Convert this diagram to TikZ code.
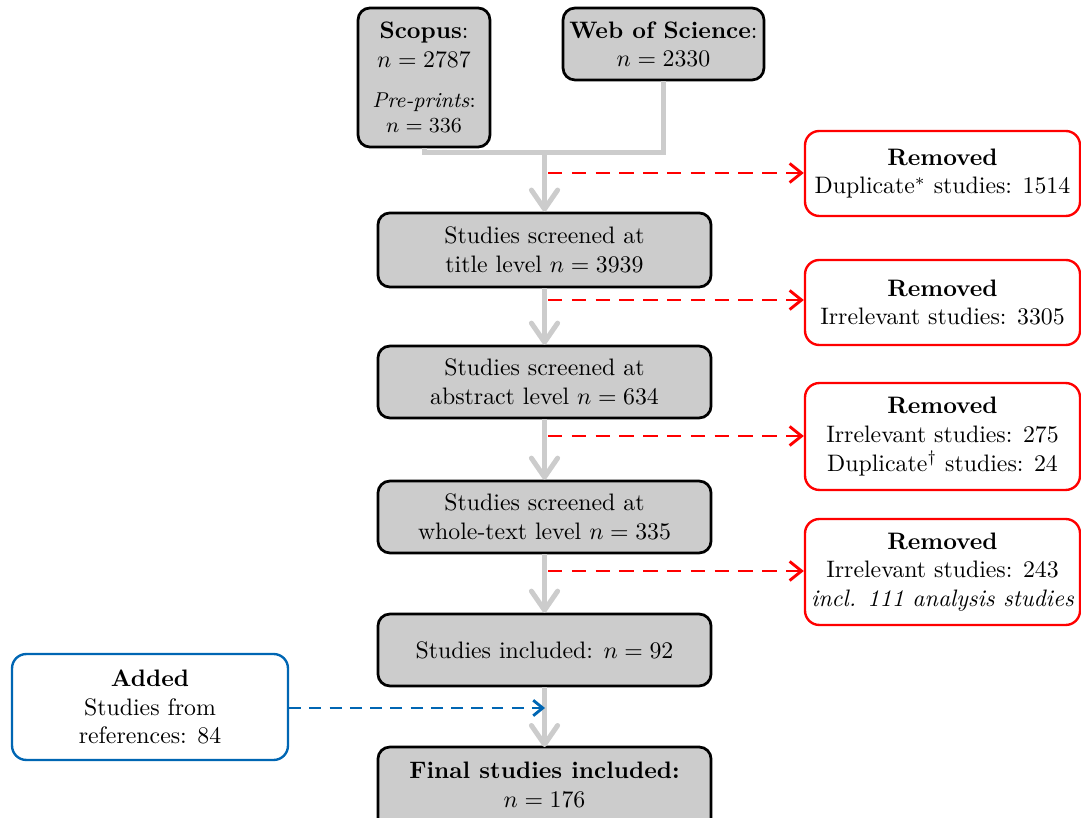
\documentclass[tikz,border=0pt]{standalone}
\usetikzlibrary{arrows.meta,calc,backgrounds}
\definecolor{boxgray}{HTML}{CCCCCC}
\definecolor{lgray}{HTML}{CCCCCC}
\definecolor{remred}{HTML}{FF0000}
\definecolor{addblue}{HTML}{0066B3}
\begin{document}
\begin{tikzpicture}[x=0.42pt,y=-0.42pt,
  mainbox/.style={draw=black, line width=1.15pt, fill=boxgray, rounded corners=5pt, align=center, inner sep=2pt, minimum width=139.9pt},
  redbox/.style={draw=remred, line width=1pt, fill=white, rounded corners=6pt, align=center, minimum width=115.5pt, inner sep=2pt},
  bluebox/.style={draw=addblue, line width=1pt, fill=white, rounded corners=6pt, align=center, minimum width=115.9pt, minimum height=44.5pt, inner sep=2pt},
  flow/.style={draw=lgray, line width=2.1pt},
  flowarrow/.style={flow, -{Straight Barb[length=8pt,width=11pt,round]}},
  remarrow/.style={draw=remred, line width=1.2pt, dash pattern=on 6pt off 4pt, -{Straight Barb[length=5pt,width=8pt]}},
  addarrow/.style={draw=addblue, line width=1.2pt, dash pattern=on 5pt off 3.5pt, -{Straight Barb[length=4pt,width=6.5pt]}}
]
\useasboundingbox (0,0) rectangle (1081,818);

% sources
\node[mainbox, minimum width=55.4pt, minimum height=58.4pt] (scopus) at (424,77.5)
  {\textbf{Scopus}:\\ $n=2787$\\[5pt] {\small\textit{Pre-prints}:}\\[-1.5pt] {\small $n=336$}};
\node[mainbox, minimum width=84.4pt, minimum height=30.2pt] (wos) at (663.5,44)
  {\textbf{Web of Science}:\\ $n=2330$};

% main flow boxes
\node[mainbox, minimum height=31.1pt] (b2) at (544.5,250) {Studies screened at\\ title level $n=3939$};
\node[mainbox, minimum height=30.2pt] (b3) at (544.5,382) {Studies screened at\\ abstract level $n=634$};
\node[mainbox, minimum height=30.2pt] (b4) at (544.5,517) {Studies screened at\\ whole-text level $n=335$};
\node[mainbox, minimum height=30.2pt] (b5) at (544.5,650) {Studies included: $n=92$};
\node[mainbox, draw=none, fill=none, outer sep=0pt, minimum height=31.9pt] (b6) at (544.5,785) {\textbf{Final studies included:}\\ $n=176$};
\begin{scope}[on background layer]
  \draw[line width=1.15pt, fill=boxgray, rounded corners=5pt] (b6.north west) rectangle ($(b6.south east)+(0,30)$);
\end{scope}

% removed boxes
\node[redbox, minimum height=35.7pt] (r1) at (942.5,173.5) {\textbf{Removed}\\ Duplicate$^{*}$ studies: 1514};
\node[redbox, minimum height=35.7pt] (r2) at (942.5,302.5) {\textbf{Removed}\\ Irrelevant studies: 3305};
\node[redbox, minimum height=44.9pt] (r3) at (942.5,436.5) {\textbf{Removed}\\ Irrelevant studies: 275\\ Duplicate$^{\dagger}$ studies: 24};
\node[redbox, minimum height=44.5pt] (r4) at (942.5,572) {\textbf{Removed}\\ Irrelevant studies: 243\\ \textit{incl. 111 analysis studies}};

% added box
\node[bluebox] (add) at (150,707) {\textbf{Added}\\ Studies from\\ references: 84};

% junction coordinates
\coordinate (j0) at (544.5,153);
\coordinate (s1) at (548,173);
\coordinate (s2) at (548,300);
\coordinate (s3) at (548,436);
\coordinate (s4) at (548,571);
\coordinate (a5) at (545,708);

% gray flow
\draw[flow] (scopus.south) -- (scopus.south |- j0) -- (wos.south |- j0) -- (wos.south);
\draw[flowarrow] (j0) -- (b2.north);
\draw[flowarrow] (b2.south) -- (b3.north);
\draw[flowarrow] (b3.south) -- (b4.north);
\draw[flowarrow] (b4.south) -- (b5.north);
\draw[flowarrow] (b5.south) -- (b6.north);

% removed arrows
\draw[remarrow] (s1) -- (s1 -| r1.west);
\draw[remarrow] (s2) -- (s2 -| r2.west);
\draw[remarrow] (s3) -- (s3 -| r3.west);
\draw[remarrow] (s4) -- (s4 -| r4.west);

% added arrow
\draw[addarrow] (add.east |- a5) -- (a5);
\end{tikzpicture}
\end{document}
